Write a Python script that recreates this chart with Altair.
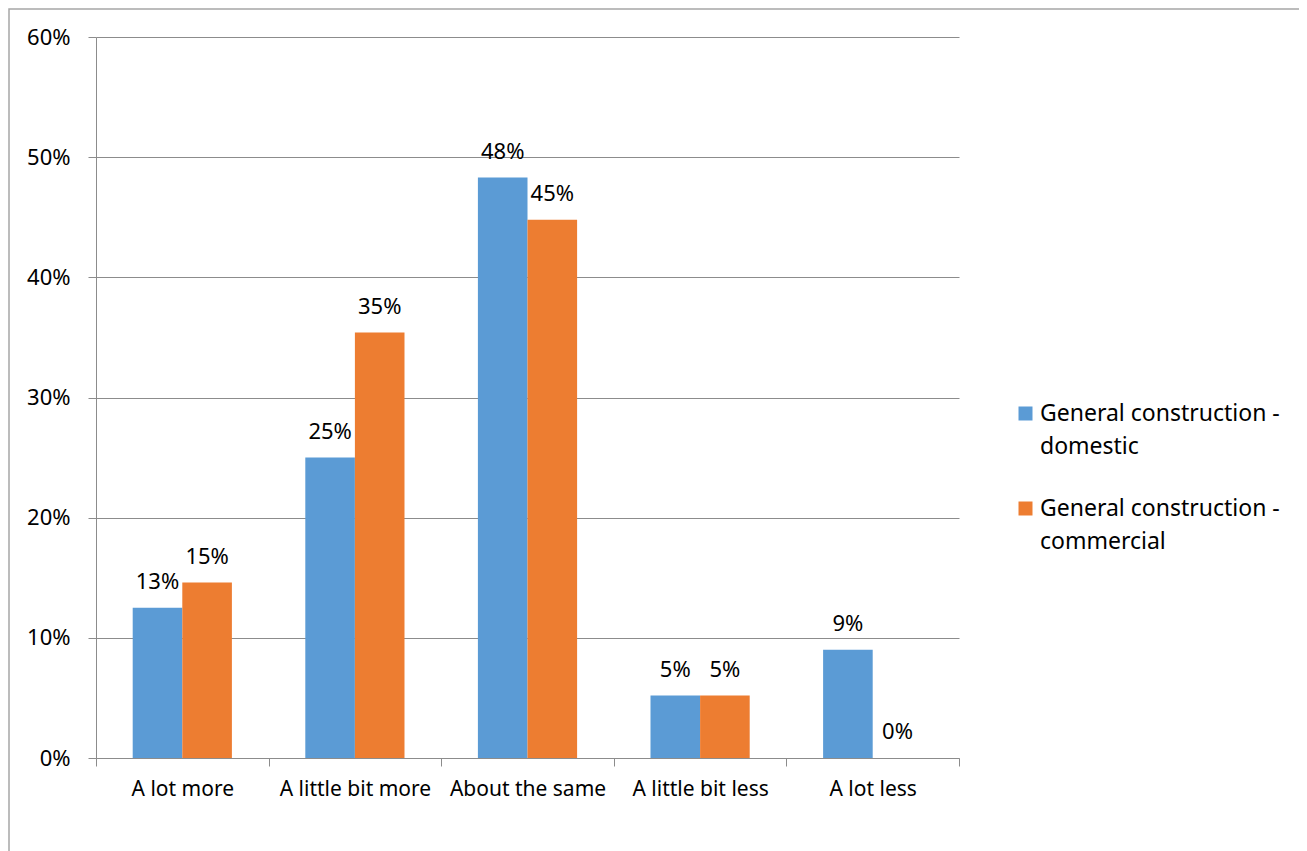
import altair as alt
import pandas as pd

categories = ["A lot more", "A little bit more", "About the same", "A little bit less", "A lot less"]
series_names = ["General construction - domestic", "General construction - commercial"]
domestic = [0.125, 0.25, 0.483, 0.052, 0.09]
commercial = [0.146, 0.354, 0.448, 0.052, 0.0]
colors = ["#5B9BD5", "#ED7D31"]
y_ticks = [0, 0.1, 0.2, 0.3, 0.4, 0.5, 0.6]

rows = []
for c, d, m in zip(categories, domestic, commercial):
    rows.append({"category": c, "series": series_names[0], "value": d})
    rows.append({"category": c, "series": series_names[1], "value": m})
df = pd.DataFrame(rows)

FONT = "Noto Sans"
W, H = 863, 721

x_enc = alt.X("category:N", sort=categories, title=None,
              scale=alt.Scale(paddingInner=0, paddingOuter=0),
              axis=alt.Axis(labelAngle=0, tickBand="extent", tickSize=8, labelPadding=12,
                            domainColor="#8c8c8c", tickColor="#8c8c8c", labelColor="#000000",
                            labelFontSize=21, labelFont=FONT, grid=False))
xoff = alt.XOffset("series:N", sort=series_names,
                   scale=alt.Scale(paddingInner=0, paddingOuter=0.74))
y_enc = alt.Y("value:Q", title=None,
              scale=alt.Scale(domain=[0, 0.6], nice=False),
              axis=alt.Axis(values=y_ticks, format=".0%", tickSize=8, labelPadding=18,
                            domainColor="#8c8c8c", tickColor="#8c8c8c", gridColor="#8c8c8c",
                            labelColor="#000000", labelFontSize=22, labelFont=FONT))

border = alt.Chart(pd.DataFrame({"k": [0]})).mark_rect(
    fillOpacity=0, stroke="#a6a6a6", strokeWidth=1.5
).encode(x=alt.value(-87), x2=alt.value(1208), y=alt.value(-28), y2=alt.value(900))

bars = alt.Chart(df).mark_bar().encode(
    x=x_enc, xOffset=xoff, y=y_enc,
    color=alt.Color("series:N", sort=series_names,
                    scale=alt.Scale(domain=series_names, range=colors),
                    legend=alt.Legend(title=None, orient="none", legendX=918, legendY=365,
                                      symbolType="square", symbolSize=196, symbolStrokeWidth=0,
                                      labelFontSize=23, labelFont=FONT, labelColor="#000000",
                                      labelLimit=400, rowPadding=38, labelOffset=3,
                                      labelExpr="split(replace(datum.label, ' - ', ' -|'), '|')"))
)

labels = alt.Chart(df).mark_text(dy=-19, baseline="alphabetic", fontSize=22, font=FONT,
                                 color="#000000").encode(
    x=alt.X("category:N", sort=categories), xOffset=alt.XOffset("series:N", sort=series_names),
    y="value:Q", text=alt.Text("value:Q", format=".0%")
)

chart = alt.layer(border, bars, labels).properties(
    width=W, height=H,
    autosize=alt.AutoSizeParams(type="none"),
    padding={"left": 88, "top": 29, "right": 340, "bottom": 93}
).configure(view=alt.ViewConfig(stroke=None),
            style={"guide-label": {"lineHeight": 33}})

chart.save("out.html", embed_options={"renderer": "svg", "actions": False})
